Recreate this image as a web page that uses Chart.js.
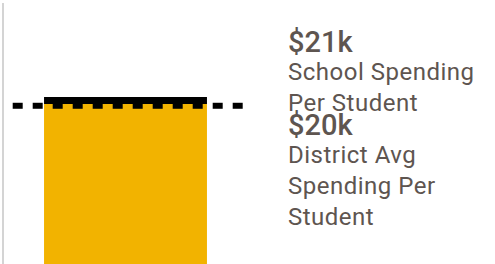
<!DOCTYPE html>
<html lang="en">
<head>
  <meta charset="UTF-8">
  <title>School Spending Per Student</title>
  <script src="https://cdn.jsdelivr.net/npm/chart.js"></script>
  <style>
    body {
      margin: 0;
      width: 495px;
      height: 264px;
      overflow: hidden;
      background: #fff;
      font-family: Roboto, 'Noto Sans', sans-serif;
      color: #5e5550;
    }
    .chart-box {
      position: absolute;
      left: 0;
      top: 0;
      width: 250px;
      height: 264px;
    }
    .stat {
      position: absolute;
      left: 288px;
    }
    .stat .value {
      font-size: 29px;
      font-weight: 500;
      line-height: 30px;
    }
    .stat .label {
      font-size: 24px;
      line-height: 31px;
      letter-spacing: 0.5px;
      width: 205px;
    }
  </style>
</head>
<body>
  <div class="chart-box">
    <canvas id="spendChart"></canvas>
  </div>

  <div class="stat" id="schoolStat" style="top:27px">
    <div class="value" id="schoolValue"></div>
    <div class="label" id="schoolLabel"></div>
  </div>
  <div class="stat" id="districtStat" style="top:110px">
    <div class="value" id="districtValue"></div>
    <div class="label" id="districtLabel"></div>
  </div>

  <script>
    // values in thousands of dollars
    const categories = ['School Spending Per Student'];
    const schoolSpending = [21.0];
    const districtAvg = [19.9];
    const valueLabels = ['$21k', '$20k'];
    const textLabels = ['School Spending Per Student', 'District Avg Spending Per Student'];

    document.getElementById('schoolValue').textContent = valueLabels[0];
    document.getElementById('schoolLabel').textContent = textLabels[0];
    document.getElementById('districtValue').textContent = valueLabels[1];
    document.getElementById('districtLabel').textContent = textLabels[1];

    // dashed reference line for the district average
    const avgLine = {
      id: 'avgLine',
      afterDatasetsDraw(chart) {
        const { ctx, chartArea, scales } = chart;
        const y = scales.y.getPixelForValue(districtAvg[0]);
        ctx.save();
        ctx.strokeStyle = '#000';
        ctx.lineWidth = 6;
        ctx.setLineDash([10, 10]);
        ctx.lineDashOffset = 10.3;
        ctx.beginPath();
        ctx.moveTo(chartArea.left, y);
        ctx.lineTo(chartArea.right - 3, y);
        ctx.stroke();
        ctx.restore();
      }
    };

    const ctx = document.getElementById('spendChart').getContext('2d');
    new Chart(ctx, {
      type: 'bar',
      data: {
        labels: categories,
        datasets: [{
          data: schoolSpending,
          backgroundColor: '#f2b300',
          borderColor: '#000',
          borderWidth: { top: 7, left: 0, right: 0, bottom: 0 },
          borderSkipped: 'bottom',
          barPercentage: 0.665,
          categoryPercentage: 1
        }]
      },
      options: {
        responsive: true,
        maintainAspectRatio: false,
        devicePixelRatio: 1,
        animation: false,
        layout: { padding: { left: 3, right: 2, top: 4, bottom: 0 } },
        plugins: {
          legend: { display: false },
          tooltip: { enabled: false }
        },
        scales: {
          x: { display: false },
          y: {
            min: 0,
            max: 32.7,
            ticks: { display: false },
            grid: { display: false, drawTicks: false },
            border: { display: true, color: '#d4d4d4', width: 2 }
          }
        }
      },
      plugins: [avgLine]
    });
  </script>
</body>
</html>
